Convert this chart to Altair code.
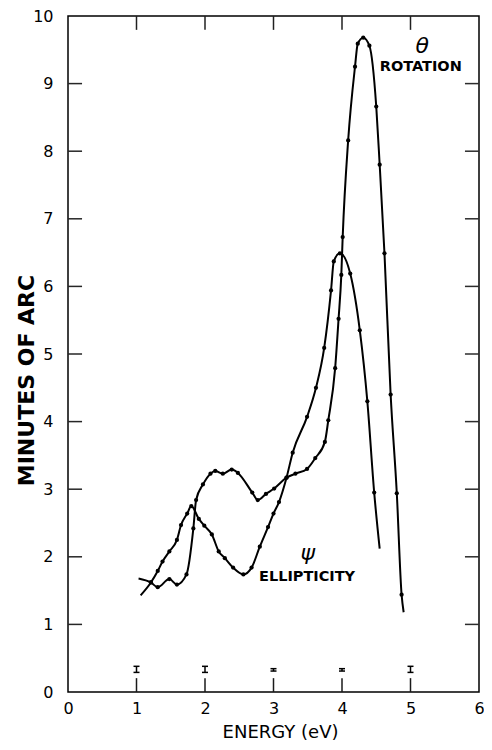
import altair as alt
import pandas as pd

# --- data ---
rot_E = [1.03, 1.21, 1.31, 1.48, 1.59, 1.73, 1.83, 1.87, 1.97, 2.08, 2.15, 2.26, 2.39, 2.48,
         2.69, 2.77, 2.89, 3.01, 3.19, 3.32, 3.49, 3.61, 3.75, 3.80, 3.90, 3.95, 3.99, 4.01,
         4.09, 4.19, 4.23, 4.31, 4.40, 4.50, 4.55, 4.62, 4.71, 4.80, 4.87, 4.90]
rot_M = [1.68, 1.62, 1.55, 1.67, 1.59, 1.74, 2.42, 2.84, 3.07, 3.23, 3.27, 3.23, 3.29, 3.24,
         2.95, 2.84, 2.93, 3.01, 3.17, 3.23, 3.30, 3.46, 3.70, 4.02, 4.79, 5.52, 6.17, 6.73,
         8.16, 9.25, 9.59, 9.68, 9.56, 8.66, 7.80, 6.49, 4.40, 2.94, 1.44, 1.18]

ell_E = [1.06, 1.21, 1.31, 1.38, 1.48, 1.59, 1.65, 1.74, 1.80, 1.91, 1.99, 2.10, 2.20, 2.29,
         2.41, 2.56, 2.68, 2.80, 2.92, 3.00, 3.08, 3.19, 3.28, 3.49, 3.62, 3.74, 3.84, 3.88,
         3.97, 4.12, 4.26, 4.37, 4.47, 4.55]
ell_M = [1.43, 1.62, 1.79, 1.93, 2.08, 2.25, 2.47, 2.64, 2.75, 2.56, 2.46, 2.33, 2.08, 1.98,
         1.84, 1.74, 1.84, 2.15, 2.44, 2.64, 2.81, 3.17, 3.54, 4.07, 4.50, 5.09, 5.94, 6.37,
         6.49, 6.19, 5.35, 4.30, 2.95, 2.12]

err_E = [1, 2, 3, 4, 5]
err_lo = [0.29, 0.29, 0.31, 0.31, 0.29]
err_hi = [0.38, 0.38, 0.345, 0.345, 0.38]

x_ticks = [0, 1, 2, 3, 4, 5, 6]
y_ticks = [0, 1, 2, 3, 4, 5, 6, 7, 8, 9, 10]

labels_txt = ["\u03b8", "ROTATION", "\u03c8", "ELLIPTICITY"]
labels_E = [5.17, 5.15, 3.50, 3.49]
labels_M = [9.55, 9.25, 2.06, 1.70]

# --- tables ---
rot = pd.DataFrame({"E": rot_E, "M": rot_M, "series": "rotation"})
ell = pd.DataFrame({"E": ell_E, "M": ell_M, "series": "ellipticity"})
curves = pd.concat([rot, ell], ignore_index=True)
dots = pd.concat([rot.iloc[1:-1], ell.iloc[1:-1]], ignore_index=True)

errs = pd.DataFrame({"E": err_E, "lo": err_lo, "hi": err_hi})

TL = 0.205  # inward tick length in data units (~14 px)
inner_x = x_ticks[1:-1]
inner_y = y_ticks[1:-1]

# bottom/top ticks: vertical rules at each inner x tick
bt = pd.DataFrame({"E": inner_x, "lo": [0.0] * len(inner_x), "hi": [TL] * len(inner_x)})
tt = pd.DataFrame({"E": inner_x, "lo": [10 - TL] * len(inner_x), "hi": [10.0] * len(inner_x)})
# left/right ticks: horizontal rules at each inner y tick
lt = pd.DataFrame({"M": inner_y, "a": [0.0] * len(inner_y), "b": [TL] * len(inner_y)})
rt = pd.DataFrame({"M": inner_y, "a": [6 - TL] * len(inner_y), "b": [6.0] * len(inner_y)})

ann = pd.DataFrame({"t": labels_txt, "E": labels_E, "M": labels_M})

xs = alt.Scale(domain=[0, 6], nice=False)
ys = alt.Scale(domain=[0, 10], nice=False)

W, H = 411, 676

x_axis = alt.Axis(values=x_ticks, format="d", ticks=False, domain=False, grid=False,
                  labelFontSize=16, labelPadding=8, labelFont="DejaVu Sans", labelFlush=False,
                  labelColor="black", title="ENERGY (eV)", titleFontSize=18,
                  titleFont="DejaVu Sans", titleFontWeight="normal", titleColor="black",
                  titleX=212, titleY=40, titleAlign="center", titleBaseline="middle")
y_axis = alt.Axis(values=y_ticks, format="d", ticks=False, domain=False, grid=False,
                  labelFontSize=16, labelPadding=15, labelFont="DejaVu Sans", labelFlush=False,
                  labelColor="black", title="MINUTES OF ARC", titleFontSize=22,
                  titleFont="DejaVu Sans", titleFontWeight="bold", titleColor="black",
                  titleX=-42, titleY=364, titleAlign="center", titleBaseline="middle",
                  titleAngle=270)

lines = alt.Chart(curves).mark_line(color="black", strokeWidth=2, interpolate="monotone").encode(
    x=alt.X("E:Q", scale=xs, axis=x_axis),
    y=alt.Y("M:Q", scale=ys, axis=y_axis),
    detail="series:N",
)

points = alt.Chart(dots).mark_circle(color="black", size=18, opacity=1).encode(
    x=alt.X("E:Q", scale=xs), y=alt.Y("M:Q", scale=ys)
)


def vrule(df, color):
    return alt.Chart(df).mark_rule(color=color, strokeWidth=1.5).encode(
        x=alt.X("E:Q", scale=xs), y=alt.Y("lo:Q", scale=ys), y2="hi:Q"
    )


def hrule(df, color):
    return alt.Chart(df).mark_rule(color=color, strokeWidth=1.5).encode(
        y=alt.Y("M:Q", scale=ys), x=alt.X("a:Q", scale=xs), x2="b:Q"
    )


err_rules = alt.Chart(errs).mark_rule(color="black", strokeWidth=1.5).encode(
    x=alt.X("E:Q", scale=xs), y=alt.Y("lo:Q", scale=ys), y2="hi:Q"
)
err_lo_caps = alt.Chart(errs).mark_tick(color="black", orient="horizontal", size=6,
                                        thickness=1.5, opacity=1).encode(
    x=alt.X("E:Q", scale=xs), y=alt.Y("lo:Q", scale=ys)
)
err_hi_caps = alt.Chart(errs).mark_tick(color="black", orient="horizontal", size=6,
                                        thickness=1.5, opacity=1).encode(
    x=alt.X("E:Q", scale=xs), y=alt.Y("hi:Q", scale=ys)
)

greek = alt.Chart(ann[ann["t"].isin(["\u03b8", "\u03c8"])]).mark_text(
    font="DejaVu Sans", fontSize=22, fontStyle="italic", color="black", baseline="middle", align="center"
).encode(x=alt.X("E:Q", scale=xs), y=alt.Y("M:Q", scale=ys), text="t:N")

words = alt.Chart(ann[ann["t"].isin(["ROTATION", "ELLIPTICITY"])]).mark_text(
    font="DejaVu Sans", fontSize=14.5, fontWeight="bold", color="black", baseline="middle", align="center"
).encode(x=alt.X("E:Q", scale=xs), y=alt.Y("M:Q", scale=ys), text="t:N")

chart = alt.layer(
    lines,
    vrule(bt, "#1a1a1a"), vrule(tt, "#202020"), hrule(lt, "#262626"), hrule(rt, "#2c2c2c"),
    err_rules, err_lo_caps, err_hi_caps, points, greek, words
).properties(
    width=W, height=H,
    autosize=alt.AutoSizeParams(type="none"),
    padding={"left": 60, "top": 8, "right": 5, "bottom": 50},
    background="white",
).configure_view(stroke="black", strokeWidth=1.5)

chart.save("out.html", embed_options={"renderer": "svg", "actions": False})
